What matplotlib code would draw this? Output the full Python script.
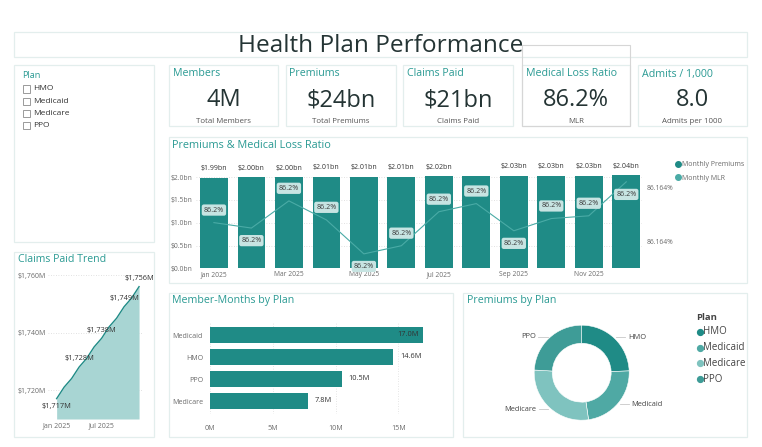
import numpy as np
import matplotlib.pyplot as plt
from matplotlib.patches import Rectangle
from matplotlib.lines import Line2D
from matplotlib.ticker import FuncFormatter

plt.rcParams['font.family'] = ['Open Sans', 'DejaVu Sans']

# ---- data ----
months = ["Jan 2025", "Feb 2025", "Mar 2025", "Apr 2025", "May 2025", "Jun 2025",
          "Jul 2025", "Aug 2025", "Sep 2025", "Oct 2025", "Nov 2025", "Dec 2025"]
monthly_premiums = [1.99, 2.00, 2.00, 2.01, 2.01, 2.01, 2.02, 2.02, 2.03, 2.03, 2.03, 2.04]
monthly_mlr = [86.16394, 86.16390, 86.16410, 86.16396, 86.16371, 86.16377,
               86.16402, 86.16408, 86.16388, 86.16397, 86.16399, 86.16424]
claims_paid = [1717, 1721, 1724, 1728, 1731, 1735, 1738, 1742, 1745, 1749, 1752, 1756]
claims_label_idx = [0, 3, 6, 9, 11]
mm_plans = ["Medicaid", "HMO", "PPO", "Medicare"]
member_months = [17.0, 14.6, 10.5, 7.8]
plans = ["HMO", "Medicaid", "Medicare", "PPO"]
premiums_by_plan = [5.83, 5.57, 6.74, 5.76]
kpi_titles = ["Members", "Premiums", "Claims Paid", "Medical Loss Ratio", "Admits / 1,000"]
kpi_values = ["4M", "$24bn", "$21bn", "86.2%", "8.0"]
kpi_labels = ["Total Members", "Total Premiums", "Claims Paid", "MLR", "Admits per 1000"]

# ---- style ----
W, H = 762, 447
TEAL = '#1f8b86'
TITLE_C = '#2a9a93'
DARK = '#243434'
GREY = '#6b6b6b'
BORDER = '#e3eeed'
plan_colors = ['#1f8b86', '#4fa9a4', '#7fc3bf', '#3e9c97']

fig = plt.figure(figsize=(W / 100, H / 100), dpi=100)
fig.patch.set_facecolor('white')


def add_ax(x0, y0, x1, y1):
    return fig.add_axes([x0 / W, 1 - y1 / H, (x1 - x0) / W, (y1 - y0) / H])


def panel(x0, y0, x1, y1, ec=BORDER, lw=0.9):
    fig.patches.append(Rectangle((x0 / W, 1 - y1 / H), (x1 - x0) / W, (y1 - y0) / H,
                                 transform=fig.transFigure, fill=False, ec=ec, lw=lw))


def ftext(x, y, s, **kw):
    return fig.text(x / W, 1 - y / H, s, **kw)


def clean(ax, size=5.0):
    for s in ax.spines.values():
        s.set_visible(False)
    ax.tick_params(length=0, colors=GREY, labelsize=size)


# ---- title ----
panel(14, 32, 747, 57)
ftext(380.5, 46.5, "Health Plan Performance", ha='center', va='center',
      fontsize=17.6, color=DARK)

# ---- slicer ----
panel(14, 65, 154, 242)
ftext(22.5, 76, "Plan", fontsize=6.6, color=TITLE_C, va='center')
for i, p in enumerate(plans):
    y = 89 + i * 12.3
    fig.patches.append(Rectangle((22.5 / W, 1 - (y + 3.6) / H), 7.2 / W, 7.2 / H,
                                 transform=fig.transFigure, fill=False, ec='#8a8a8a', lw=0.6))
    ftext(33, y, p, fontsize=6, color='#333333', va='center')

# ---- KPI cards ----
cards = [(169, 278), (286, 396), (403, 513), (522, 630), (638, 747)]
for (x0, x1), t, v, lab in zip(cards, kpi_titles, kpi_values, kpi_labels):
    panel(x0, 65, x1, 126)
    ftext(x0 + 3.5, 74, t, fontsize=7.7, color=TITLE_C, va='center')
    ftext((x0 + x1) / 2, 100, v, fontsize=17, color=DARK, ha='center', va='center')
    ftext((x0 + x1) / 2, 121.5, lab, fontsize=5.7, color='#555555', ha='center', va='center')
panel(522, 45, 630, 126, ec='#d6d6d6', lw=0.8)

# ---- Premiums & MLR ----
panel(169, 137, 747, 283)
ftext(172.5, 146, "Premiums & Medical Loss Ratio", fontsize=7.8, color=TITLE_C, va='center')
ax = add_ax(196, 159, 642, 268.3)
x = np.arange(len(months))
ax.bar(x, monthly_premiums, width=0.74, color=TEAL, zorder=2)
ax.set_xlim(-0.478, 11.42)
ax.set_ylim(0, 2.4)
ax.set_yticks([0, 0.5, 1.0, 1.5, 2.0])
ax.yaxis.set_major_formatter(FuncFormatter(lambda v, _: f"${v:.1f}bn"))
ax.set_xticks(x[::2])
ax.set_xticklabels(months[::2])
ax.grid(axis='y', linestyle=(0, (1, 2)), color='#d8d8d8', lw=0.6, zorder=0)
clean(ax, 4.9)
ax.tick_params(axis='y', pad=2.5)
ax.tick_params(axis='x', pad=2)
for i, v in enumerate(monthly_premiums):
    if i == 7:
        continue
    ax.text(i, v + 0.2, f"${v:.2f}bn", ha='center', va='center', fontsize=5.0, color='#333333')

ax2 = ax.twinx()
ax2.set_ylim(86.163604, 86.164408)
ax2.plot(x, monthly_mlr, color='#4aaba6', lw=0.8, zorder=3)
ax2.set_yticks([86.1638, 86.1642])
ax2.yaxis.set_major_formatter(FuncFormatter(lambda v, _: f"{v:.3f}%"))
clean(ax2, 4.9)
ax2.tick_params(axis='y', pad=3.5)
span = 86.164408 - 86.163604
for i, v in enumerate(monthly_mlr):
    prev = monthly_mlr[i - 1] if i > 0 else None
    nxt = monthly_mlr[i + 1] if i < len(monthly_mlr) - 1 else None
    is_min = prev is not None and v < prev and (nxt is None or v < nxt)
    below = is_min or nxt is None
    off = -0.115 * span if below else 0.115 * span
    ax2.text(i, v + off, f"{v:.1f}%", ha='center', va='center', fontsize=5.1, color='#3a3a3a',
             zorder=4, bbox=dict(boxstyle='round,pad=0.3,rounding_size=0.3', fc='#c7e4e2', ec='none'))

handles = [Line2D([], [], marker='o', ls='none', color=TEAL, markersize=4),
           Line2D([], [], marker='o', ls='none', color='#4aaba6', markersize=4)]
ax.legend(handles, ["Monthly Premiums", "Monthly MLR"], loc='upper left',
          bbox_to_anchor=(672 / W, 1 - 158 / H), bbox_transform=fig.transFigure,
          frameon=False, fontsize=5, labelcolor=GREY, handlelength=0.8,
          handletextpad=0.2, borderpad=0, labelspacing=0.9)

# ---- Claims Paid Trend ----
panel(14, 252, 154, 437)
ftext(17.5, 260, "Claims Paid Trend", fontsize=7.6, color=TITLE_C, va='center')
axc = add_ax(48.4, 270, 142.8, 419)
cx = np.arange(len(claims_paid))
lo = 1709.9
axc.fill_between(cx, claims_paid, lo, color='#a8d5d3', lw=0, zorder=2)
axc.plot(cx, claims_paid, color=TEAL, lw=1.0, zorder=3)
axc.set_xlim(-1.1, 11.5)
axc.set_ylim(lo, 1761.8)
axc.set_yticks([1720, 1740, 1760])
axc.yaxis.set_major_formatter(FuncFormatter(lambda v, _: f"${v:,.0f}M"))
axc.set_xticks([0, 6])
axc.set_xticklabels(["Jan 2025", "Jul 2025"])
axc.grid(axis='y', linestyle=(0, (1, 2)), color='#d8d8d8', lw=0.6, zorder=0)
clean(axc, 5.0)
axc.tick_params(axis='y', pad=2)
axc.tick_params(axis='x', pad=2)
for i in claims_label_idx:
    dy = -2.9 if i == 0 else 2.9
    axc.text(i, claims_paid[i] + dy, f"${claims_paid[i]:,}M", ha='center', va='center',
             fontsize=5.3, color='#333333', zorder=4)

# ---- Member-Months by Plan ----
panel(169, 293, 453, 437)
ftext(172.5, 301, "Member-Months by Plan", fontsize=7.7, color=TITLE_C, va='center')
axm = add_ax(210, 321.8, 436, 414.2)
yy = np.arange(len(mm_plans))
axm.barh(yy, member_months, height=0.73, color=TEAL, zorder=2)
axm.set_xlim(0, 18)
axm.set_ylim(3.6, -0.6)
axm.set_yticks(yy)
axm.set_yticklabels(mm_plans)
axm.set_xticks([0, 5, 10, 15])
axm.xaxis.set_major_formatter(FuncFormatter(lambda v, _: f"{v:.0f}M"))
axm.grid(axis='x', linestyle=(0, (1, 2)), color='#dddddd', lw=0.6, zorder=0)
clean(axm, 5.1)
axm.tick_params(axis='x', pad=8)
axm.tick_params(axis='y', pad=5)
for i, v in enumerate(member_months):
    if v > 0.9 * 18:
        axm.text(v - 0.35, i, f"{v:.1f}M", ha='right', va='center', fontsize=5.3, color='#333333', zorder=3)
    else:
        axm.text(v + 0.55, i, f"{v:.1f}M", ha='left', va='center', fontsize=5.3, color='#333333', zorder=3)

# ---- Premiums by Plan ----
panel(463, 293, 747, 437)
ftext(467, 301, "Premiums by Plan", fontsize=7.7, color=TITLE_C, va='center')
r_px = 47.5
cxp, cyp = 581.7, 372.7
axp = add_ax(cxp - r_px, cyp - r_px, cxp + r_px, cyp + r_px)
wedges, _ = axp.pie(premiums_by_plan, colors=plan_colors, startangle=90, counterclock=False,
                    radius=1, wedgeprops=dict(width=0.38, edgecolor='white', linewidth=0.4))
axp.set_xlim(-1, 1)
axp.set_ylim(-1, 1)
axp.set_aspect('equal')
for w, name in zip(wedges, plans):
    th = np.deg2rad((w.theta1 + w.theta2) / 2)
    x0, y0 = 1.04 * np.cos(th), 1.04 * np.sin(th)
    sgn = 1 if x0 > 0 else -1
    x1 = x0 + sgn * 0.2
    axp.plot([x0, x1], [y0, y0], color='#c8c8c8', lw=0.6, clip_on=False)
    axp.text(x1 + sgn * 0.05, y0, name, ha='left' if sgn > 0 else 'right', va='center',
             fontsize=5.3, color='#444444', clip_on=False)

ftext(696, 317, "Plan", fontsize=6.8, color='#444444', fontweight='bold', va='center')
for i, (p, c) in enumerate(zip(plans, plan_colors)):
    y = 331.7 + i * 15.8
    fig.add_artist(Line2D([699.5 / W], [1 - y / H], marker='o', color=c, markersize=4.2,
                          transform=fig.transFigure))
    ftext(703.5, y, p, fontsize=7, color='#444444', va='center')

fig.savefig('out.png', dpi=100, facecolor='white')
